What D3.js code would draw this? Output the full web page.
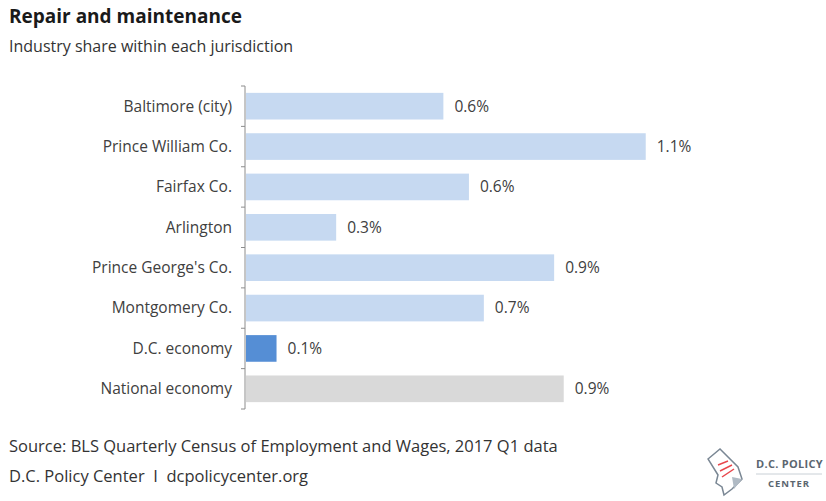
<!DOCTYPE html>
<html>
<head>
<meta charset="utf-8">
<script src="https://cdn.jsdelivr.net/npm/d3@7"></script>
<style>
  body { margin: 0; background: #fff; }
  text { font-family: "Open Sans", Lato, sans-serif; }
</style>
</head>
<body>
<div id="chart"></div>
<script>
// categories, top to bottom
var places = ["Baltimore (city)", "Prince William Co.", "Fairfax Co.", "Arlington",
  "Prince George's Co.", "Montgomery Co.", "D.C. economy", "National economy"];
// industry share, percent
var shares = [0.556, 1.126, 0.628, 0.254, 0.868, 0.670, 0.086, 0.895];
// bar kind: region / dc / national
var kinds = ["region", "region", "region", "region", "region", "region", "dc", "national"];

var width = 826;
var height = 501;

var colors = { region: "#c6d9f1", dc: "#558ed5", national: "#d9d9d9" };

var data = places.map(function(p, i) {
  return { place: p, share: shares[i], kind: kinds[i] };
});

var svg = d3.select("#chart")
  .append("svg")
  .attr("width", width)
  .attr("height", height);

// scales
var xscale = d3.scaleLinear()
  .domain([0, 1.2])
  .range([246, 672]);

var yscale = d3.scaleBand()
  .domain(places)
  .range([86, 409])
  .paddingInner(0.34)
  .paddingOuter(0.17);

// bars
svg.selectAll("rect.bar")
  .data(data)
  .enter()
  .append("rect")
  .attr("class", "bar")
  .attr("x", xscale(0))
  .attr("y", function(d) { return yscale(d.place); })
  .attr("width", function(d) { return xscale(d.share) - xscale(0); })
  .attr("height", yscale.bandwidth())
  .attr("fill", function(d) { return colors[d.kind]; });

// value labels
svg.selectAll("text.val")
  .data(data)
  .enter()
  .append("text")
  .attr("class", "val")
  .attr("x", function(d) { return xscale(d.share) + 11; })
  .attr("y", function(d) { return yscale(d.place) + yscale.bandwidth() / 2; })
  .attr("dy", "0.35em")
  .style("font-size", "15.5px")
  .style("fill", "#404040")
  .text(function(d) { return d3.format(".1f")(d.share) + "%"; });

// y axis with ticks between categories
var yaxis = svg.append("g")
  .attr("transform", "translate(245,0)");

yaxis.append("line")
  .attr("x1", 0).attr("x2", 0)
  .attr("y1", 86).attr("y2", 409)
  .attr("stroke", "#8c8c8c");

var step = yscale.step();
var bounds = places.map(function(p) { return yscale(p) - step * 0.17; });
bounds.push(409);
bounds[0] = 86;

yaxis.selectAll("line.tick")
  .data(bounds)
  .enter()
  .append("line")
  .attr("class", "tick")
  .attr("x1", -4).attr("x2", 0)
  .attr("y1", function(d) { return d; })
  .attr("y2", function(d) { return d; })
  .attr("stroke", "#8c8c8c");

yaxis.selectAll("text.cat")
  .data(places)
  .enter()
  .append("text")
  .attr("class", "cat")
  .attr("x", -13)
  .attr("y", function(d) { return yscale(d) + yscale.bandwidth() / 2; })
  .attr("dy", "0.35em")
  .attr("text-anchor", "end")
  .style("font-size", "15.5px")
  .style("fill", "#404040")
  .text(function(d) { return d; });

// titles
svg.append("text")
  .attr("x", 9).attr("y", 23)
  .style("font-size", "19px")
  .style("font-weight", "bold")
  .style("fill", "#1a1a1a")
  .text("Repair and maintenance");

svg.append("text")
  .attr("x", 9).attr("y", 52)
  .style("font-size", "16px")
  .style("fill", "#333")
  .text("Industry share within each jurisdiction");

// footer
svg.append("text")
  .attr("x", 9).attr("y", 452)
  .style("font-size", "16.5px")
  .style("fill", "#333")
  .text("Source: BLS Quarterly Census of Employment and Wages, 2017 Q1 data");

svg.append("text")
  .attr("x", 9).attr("y", 482)
  .style("font-size", "16.5px")
  .style("fill", "#333")
  .style("white-space", "pre")
  .text("D.C. Policy Center  I  dcpolicycenter.org");

// logo
var logo = svg.append("g").attr("transform", "translate(704,447)");
logo.append("path")
  .attr("d", "M4,12 L16,2 L34,20 L38,32 L28,42 L20,48 L18,40 L12,36 L14,28 Z")
  .attr("fill", "none")
  .attr("stroke", "#7a8794")
  .attr("stroke-width", 1.5);
logo.append("path")
  .attr("d", "M28,30 L38,32 L30,42 Z")
  .attr("fill", "#b0bac4");
[[14, 18, 24, 14], [16, 24, 28, 18], [18, 30, 30, 22]].forEach(function(l) {
  logo.append("line")
    .attr("x1", l[0]).attr("y1", l[1]).attr("x2", l[2]).attr("y2", l[3])
    .attr("stroke", "#e8474c").attr("stroke-width", 1.5);
});
logo.append("text")
  .attr("x", 52).attr("y", 21)
  .style("font-size", "11px")
  .style("font-weight", "bold")
  .style("letter-spacing", "0.3px")
  .style("fill", "#5b6670")
  .text("D.C. POLICY");
logo.append("line")
  .attr("x1", 52).attr("x2", 118)
  .attr("y1", 27).attr("y2", 27)
  .attr("stroke", "#c9d0d6");
logo.append("text")
  .attr("x", 85).attr("y", 40)
  .attr("text-anchor", "middle")
  .style("font-size", "9.5px")
  .style("font-weight", "bold")
  .style("letter-spacing", "1px")
  .style("fill", "#5b6670")
  .text("CENTER");
</script>
</body>
</html>
